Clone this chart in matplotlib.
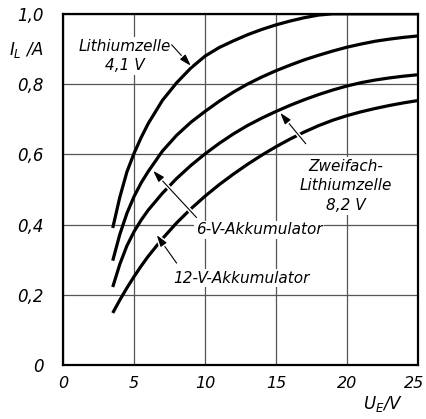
import matplotlib
matplotlib.use("Agg")
import matplotlib.pyplot as plt
import matplotlib.patheffects as pe
import matplotlib.transforms as mtransforms

plt.rcParams["font.family"] = ["Liberation Sans Narrow", "DejaVu Sans"]
plt.rcParams["font.style"] = "italic"
plt.rcParams["mathtext.fontset"] = "custom"
plt.rcParams["mathtext.it"] = "Liberation Sans Narrow:italic"
plt.rcParams["mathtext.rm"] = "Liberation Sans Narrow:italic"

# input voltage U_E in V
u_e = [3.5, 4, 4.5, 5, 5.5, 6, 7, 8, 9, 10, 11, 12, 13, 14, 15,
       16, 17, 18, 19, 20, 21, 22, 23, 24, 25]

# charging current I_L in A
lithium_41 = [0.39, 0.478, 0.55, 0.6025, 0.6475, 0.6875, 0.7535, 0.8035,
              0.8455, 0.8795, 0.904, 0.923, 0.9405, 0.9555, 0.9685, 0.9795,
              0.989, 0.9965, 1.0, 1.0, 1.0, 1.0, 1.0, 1.0, 1.0]
akku_6v = [0.297, 0.372, 0.432, 0.4795, 0.5185, 0.551, 0.609, 0.654,
           0.691, 0.722, 0.751, 0.777, 0.80, 0.82, 0.838, 0.854, 0.869,
           0.882, 0.894, 0.905, 0.914, 0.922, 0.928, 0.933, 0.937]
lithium_82 = [0.222, 0.287, 0.3395, 0.3795, 0.4125, 0.441, 0.489, 0.531,
              0.568, 0.601, 0.631, 0.658, 0.682, 0.703, 0.722, 0.7395,
              0.7555, 0.77, 0.783, 0.7945, 0.804, 0.8115, 0.8175, 0.8225,
              0.8265]
akku_12v = [0.148, 0.185, 0.2195, 0.2515, 0.2815, 0.3095, 0.3595, 0.4045,
            0.4445, 0.4805, 0.5135, 0.5435, 0.5715, 0.5975, 0.6215, 0.6435,
            0.6635, 0.6815, 0.697, 0.71, 0.721, 0.7305, 0.739, 0.7465, 0.753]

x_ticks = [0, 5, 10, 15, 20, 25]
y_ticks = [0, 0.2, 0.4, 0.6, 0.8, 1.0]
y_labels = ["0", "0,2", "0,4", "0,6", "0,8", "1,0"]

fig = plt.figure(figsize=(4.26, 4.19), dpi=100)
ax = fig.add_axes([0.148, 0.129, 0.833, 0.838])

for y in (lithium_41, akku_6v, lithium_82, akku_12v):
    ax.plot(u_e, y, color="black", lw=2.3, solid_capstyle="butt", zorder=3)

ax.set_xlim(0, 25)
ax.set_ylim(0, 1.0)
ax.set_xticks(x_ticks)
ax.set_xticklabels([str(t) for t in x_ticks])
ax.set_yticks(y_ticks)
ax.set_yticklabels(y_labels)
ax.tick_params(length=0, labelsize=12, pad=8)
ax.tick_params(axis="x", labelsize=11.5)
ax.tick_params(axis="y", pad=14)
ax.grid(True, color="#555555", lw=0.9)
for s in ax.spines.values():
    s.set_linewidth(1.6)

# keep the last x label inside the picture
last = ax.get_xticklabels()[-1]
last.set_transform(last.get_transform() +
                   mtransforms.ScaledTranslation(-4 / 100, 0, fig.dpi_scale_trans))

fig.text(0.02, 0.88, r"$I_L$ /A", fontsize=12, ha="left", va="center")
fig.text(0.945, 0.035, r"$U_E$/V", fontsize=12, ha="right", va="center")

box = dict(facecolor="white", edgecolor="none", pad=1)
arrow = dict(arrowstyle="-|>,head_length=0.7,head_width=0.22", color="black",
             lw=0.8, shrinkA=0, shrinkB=0)

notes = [
    ("Lithiumzelle\n4,1 V", (4.35, 0.88), (7.65, 0.912), (9.0, 0.852)),
    ("Zweifach-\nLithiumzelle\n8,2 V", (19.9, 0.51), (17.1, 0.63), (15.3, 0.718)),
    ("6-V-Akkumulator", (13.8, 0.385), (9.4, 0.42), (6.35, 0.553)),
    ("12-V-Akkumulator", (12.6, 0.247), (8.0, 0.29), (6.6, 0.37)),
]
for label, pos, tail, head in notes:
    ax.text(pos[0], pos[1], label, fontsize=11, ha="center", va="center",
            linespacing=1.4, bbox=box, zorder=4)
    ann = ax.annotate("", xy=head, xytext=tail, arrowprops=arrow, zorder=5)
    ann.arrow_patch.set_path_effects([pe.Stroke(linewidth=3, foreground="white"),
                                      pe.Normal()])

fig.savefig("out.png", dpi=100)
